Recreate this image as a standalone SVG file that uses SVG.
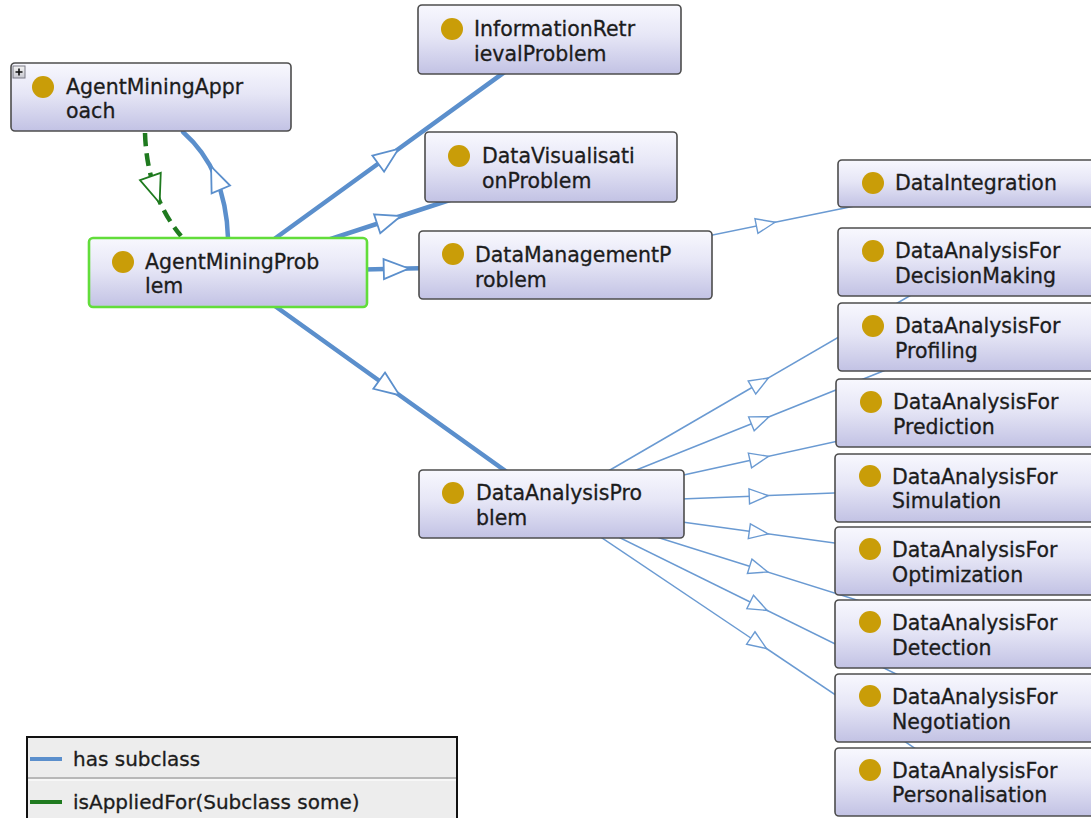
<svg xmlns="http://www.w3.org/2000/svg" width="1091" height="818" viewBox="0 0 1091 818">
  <style>
    .box { fill: url(#nodeFill); stroke: #4d4d4d; stroke-width: 1.6; }
    .focus { fill: url(#nodeFill); stroke: #62dd3a; stroke-width: 2.6; }
    .dot { fill: #c99d08; }
    .lbl { font-family: "DejaVu Sans", "Noto Sans", sans-serif; font-size: 20.5px; fill: #1c1c1c; stroke: #1c1c1c; stroke-width: 0.3; }
    .sub { fill: none; stroke: #5b8fcc; stroke-width: 4.5; stroke-linecap: round; }
    .sub-thin { fill: none; stroke: #6a9ad2; stroke-width: 1.5; }
    .applied { fill: none; stroke: #1f7a1f; stroke-width: 4.5; stroke-dasharray: 13 7; }
    .legend-text { font-family: "DejaVu Sans", "Noto Sans", sans-serif; font-size: 20px; fill: #1c1c1c; stroke: #1c1c1c; stroke-width: 0.3; }
  </style>
  <defs>
    <linearGradient id="nodeFill" x1="0" y1="0" x2="0" y2="1">
      <stop offset="0" stop-color="#f8f8fe"/>
      <stop offset="0.45" stop-color="#e6e6f6"/>
      <stop offset="1" stop-color="#c2c2e4"/>
    </linearGradient>
    <linearGradient id="btnFill" x1="0" y1="0" x2="0" y2="1">
      <stop offset="0" stop-color="#f4f4f4"/>
      <stop offset="1" stop-color="#c8c8d0"/>
    </linearGradient>
    <marker id="triThick" markerUnits="userSpaceOnUse" viewBox="-15 -12 30 24" markerWidth="30" markerHeight="24" refX="0" refY="0" orient="auto" overflow="visible">
      <path d="M-13,-10 L12,0 L-13,10 Z" fill="#ffffff" stroke="#5b8fcc" stroke-width="1.8" stroke-linejoin="miter"/>
    </marker>
    <marker id="triGreen" markerUnits="userSpaceOnUse" viewBox="-17 -13 34 26" markerWidth="34" markerHeight="26" refX="0" refY="0" orient="auto" overflow="visible">
      <path d="M-14,-11 L14,0 L-14,11 Z" fill="#ffffff" stroke="#1f7a1f" stroke-width="1.8"/>
    </marker>
    <marker id="triThin" markerUnits="userSpaceOnUse" viewBox="-12 -10 24 20" markerWidth="24" markerHeight="20" refX="0" refY="0" orient="auto" overflow="visible">
      <path d="M-9,-7.5 L10,0 L-9,7.5 Z" fill="#ffffff" stroke="#6a9ad2" stroke-width="1.4"/>
    </marker>
  </defs>

  <rect x="0" y="0" width="1091" height="818" fill="#ffffff"/>

  <!-- connectors: centre-to-centre, arrowhead at the midpoint, nodes paint over the ends -->
  <g id="connectors">
    <path class="sub" d="M228,238 Q227,204 215.75,177.5 Q204.5,151 183,132" marker-mid="url(#triThick)"/>
    <path class="applied" d="M145,133 Q146,164 155,189.75 Q164,215.5 181,236" marker-mid="url(#triGreen)"/>

    <path class="sub" d="M228,272.5 L388.75,156 L549.5,39.5" marker-mid="url(#triThick)"/>
    <path class="sub" d="M228,272.5 L389.5,219.75 L551,167" marker-mid="url(#triThick)"/>
    <path class="sub" d="M228,272.5 L396.75,268.75 L565.5,265" marker-mid="url(#triThick)"/>
    <path class="sub" d="M228,272.5 L389.75,388.25 L551.5,504" marker-mid="url(#triThick)"/>

    <path class="sub-thin" d="M565.5,265 L765.25,224.25 L965,183.5" marker-mid="url(#triThin)"/>

    <path class="sub-thin" d="M551.5,504 L759.75,383 L968,262" marker-mid="url(#triThin)"/>
    <path class="sub-thin" d="M551.5,504 L759.75,420.5 L968,337" marker-mid="url(#triThin)"/>
    <path class="sub-thin" d="M551.5,504 L758.75,458.5 L966,413" marker-mid="url(#triThin)"/>
    <path class="sub-thin" d="M551.5,504 L758.25,496 L965,488" marker-mid="url(#triThin)"/>
    <path class="sub-thin" d="M551.5,504 L758.25,532.5 L965,561" marker-mid="url(#triThin)"/>
    <path class="sub-thin" d="M551.5,504 L758.25,569 L965,634" marker-mid="url(#triThin)"/>
    <path class="sub-thin" d="M551.5,504 L758.25,606 L965,708" marker-mid="url(#triThin)"/>
    <path class="sub-thin" d="M551.5,504 L758.25,643 L965,782" marker-mid="url(#triThin)"/>
  </g>

  <!-- class nodes -->
  <g id="node-AgentMiningApproach">
    <rect class="box" x="11" y="63" width="280" height="68" rx="4"/>
    <rect x="13" y="66" width="12" height="12" fill="url(#btnFill)" stroke="#7a7a86" stroke-width="1"/>
    <path d="M19,68.5 V75.5 M15.5,72 H22.5" stroke="#111" stroke-width="1.6"/>
    <circle class="dot" cx="43" cy="87" r="11"/>
    <text class="lbl" x="66" y="94">AgentMiningAppr</text>
    <text class="lbl" x="66" y="118">oach</text>
  </g>

  <g id="node-AgentMiningProblem">
    <rect class="focus" x="89" y="238" width="278" height="69" rx="4"/>
    <circle class="dot" cx="123" cy="262" r="11"/>
    <text class="lbl" x="145" y="269">AgentMiningProb</text>
    <text class="lbl" x="145" y="293">lem</text>
  </g>

  <g id="node-InformationRetrievalProblem">
    <rect class="box" x="418" y="5" width="263" height="69" rx="4"/>
    <circle class="dot" cx="452" cy="29" r="11"/>
    <text class="lbl" x="474" y="36">InformationRetr</text>
    <text class="lbl" x="474" y="61">ievalProblem</text>
  </g>

  <g id="node-DataVisualisationProblem">
    <rect class="box" x="425" y="132" width="252" height="70" rx="4"/>
    <circle class="dot" cx="459" cy="156" r="11"/>
    <text class="lbl" x="482" y="163">DataVisualisati</text>
    <text class="lbl" x="482" y="188">onProblem</text>
  </g>

  <g id="node-DataManagementProblem">
    <rect class="box" x="419" y="231" width="293" height="68" rx="4"/>
    <circle class="dot" cx="453" cy="254" r="11"/>
    <text class="lbl" x="475" y="262">DataManagementP</text>
    <text class="lbl" x="475" y="287">roblem</text>
  </g>

  <g id="node-DataAnalysisProblem">
    <rect class="box" x="419" y="470" width="265" height="68" rx="4"/>
    <circle class="dot" cx="453" cy="493" r="11"/>
    <text class="lbl" x="476" y="500">DataAnalysisPro</text>
    <text class="lbl" x="476" y="525">blem</text>
  </g>

  <g id="node-DataIntegration">
    <rect class="box" x="838" y="160" width="262" height="47" rx="4"/>
    <circle class="dot" cx="873" cy="183" r="11"/>
    <text class="lbl" x="895" y="190">DataIntegration</text>
  </g>

  <g id="node-DataAnalysisForDecisionMaking">
    <rect class="box" x="838" y="228" width="262" height="68" rx="4"/>
    <circle class="dot" cx="873" cy="251" r="11"/>
    <text class="lbl" x="895" y="258">DataAnalysisFor</text>
    <text class="lbl" x="895" y="283">DecisionMaking</text>
  </g>

  <g id="node-DataAnalysisForProfiling">
    <rect class="box" x="838" y="303" width="262" height="68" rx="4"/>
    <circle class="dot" cx="873" cy="326" r="11"/>
    <text class="lbl" x="895" y="333">DataAnalysisFor</text>
    <text class="lbl" x="895" y="358">Profiling</text>
  </g>

  <g id="node-DataAnalysisForPrediction">
    <rect class="box" x="836" y="379" width="264" height="68" rx="4"/>
    <circle class="dot" cx="871" cy="402" r="11"/>
    <text class="lbl" x="893" y="409">DataAnalysisFor</text>
    <text class="lbl" x="893" y="434">Prediction</text>
  </g>

  <g id="node-DataAnalysisForSimulation">
    <rect class="box" x="835" y="454" width="265" height="68" rx="4"/>
    <circle class="dot" cx="870" cy="476" r="11"/>
    <text class="lbl" x="892" y="484">DataAnalysisFor</text>
    <text class="lbl" x="892" y="508">Simulation</text>
  </g>

  <g id="node-DataAnalysisForOptimization">
    <rect class="box" x="835" y="527" width="265" height="68" rx="4"/>
    <circle class="dot" cx="870" cy="549" r="11"/>
    <text class="lbl" x="892" y="557">DataAnalysisFor</text>
    <text class="lbl" x="892" y="582">Optimization</text>
  </g>

  <g id="node-DataAnalysisForDetection">
    <rect class="box" x="835" y="600" width="265" height="68" rx="4"/>
    <circle class="dot" cx="870" cy="622" r="11"/>
    <text class="lbl" x="892" y="630">DataAnalysisFor</text>
    <text class="lbl" x="892" y="655">Detection</text>
  </g>

  <g id="node-DataAnalysisForNegotiation">
    <rect class="box" x="835" y="674" width="265" height="68" rx="4"/>
    <circle class="dot" cx="870" cy="696" r="11"/>
    <text class="lbl" x="892" y="704">DataAnalysisFor</text>
    <text class="lbl" x="892" y="729">Negotiation</text>
  </g>

  <g id="node-DataAnalysisForPersonalisation">
    <rect class="box" x="835" y="748" width="265" height="68" rx="4"/>
    <circle class="dot" cx="870" cy="770" r="11"/>
    <text class="lbl" x="892" y="778">DataAnalysisFor</text>
    <text class="lbl" x="892" y="802">Personalisation</text>
  </g>

  <!-- legend -->
  <g id="legend">
    <rect x="27" y="737" width="430" height="95" fill="#ededed" stroke="#111111" stroke-width="2"/>
    <line x1="28" y1="778" x2="456" y2="778" stroke="#b8b8b8" stroke-width="2"/>
    <line x1="28" y1="780" x2="456" y2="780" stroke="#fafafa" stroke-width="1.5"/>
    <line x1="30" y1="759" x2="62" y2="759" stroke="#5b8fcc" stroke-width="4"/>
    <text class="legend-text" x="73" y="766">has subclass</text>
    <line x1="30" y1="802" x2="62" y2="802" stroke="#1f7a1f" stroke-width="4"/>
    <text class="legend-text" x="73" y="809">isAppliedFor(Subclass some)</text>
  </g>
</svg>
